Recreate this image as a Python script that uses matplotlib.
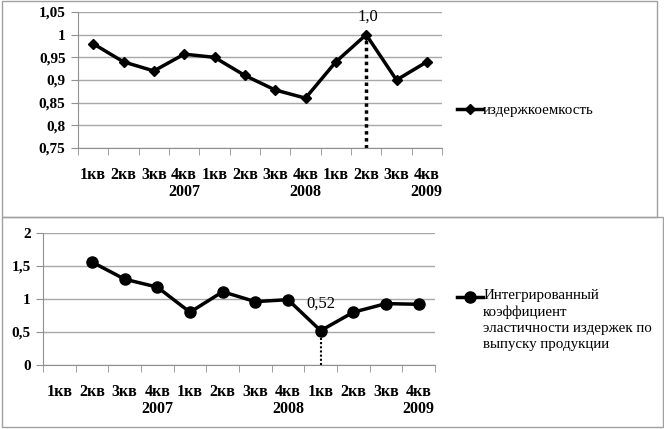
import matplotlib
matplotlib.use("Agg")
import matplotlib.pyplot as plt
from matplotlib.patches import Rectangle
import numpy as np

plt.rcParams['font.family'] = ['Liberation Serif', 'DejaVu Serif']

quarters = ["1кв", "2кв", "3кв", "4кв", "1кв", "2кв", "3кв", "4кв", "1кв", "2кв", "3кв", "4кв"]
years = ["", "", "", "2007", "", "", "", "2008", "", "", "", "2009"]
cost_intensity = [0.98, 0.94, 0.92, 0.957, 0.95, 0.91, 0.878, 0.86, 0.94, 1.0, 0.90, 0.94]
elasticity = [np.nan, 1.56, 1.30, 1.18, 0.80, 1.11, 0.96, 0.99, 0.52, 0.80, 0.93, 0.92]
label_top = "издержкоемкость"
label_bottom = "Интегрированный\nкоэффициент\nэластичности издержек по\nвыпуску продукции"
top_yticks = [0.75, 0.8, 0.85, 0.9, 0.95, 1.0, 1.05]
top_yticklabels = ["0,75", "0,8", "0,85", "0,9", "0,95", "1", "1,05"]
bot_yticks = [0, 0.5, 1, 1.5, 2]
bot_yticklabels = ["0", "0,5", "1", "1,5", "2"]

W, H = 664, 429
fig = plt.figure(figsize=(W / 100, H / 100), dpi=100)

def px(x0, y0, x1, y1):
    return [x0 / W, 1 - y1 / H, (x1 - x0) / W, (y1 - y0) / H]

# panel frames
fig.patches.append(Rectangle((2 / W, 1 - 217 / H), 655 / W, 216 / H, transform=fig.transFigure,
                             fill=False, edgecolor="#a0a0a0", lw=1.0))
fig.patches.append(Rectangle((2 / W, 1 - 427 / H), 661 / W, 210 / H, transform=fig.transFigure,
                             fill=False, edgecolor="#a0a0a0", lw=1.0))

labels = [q + ("\n" + y if y else "") for q, y in zip(quarters, years)]
x = np.arange(len(quarters))

def style(ax, yticks, yticklabels):
    ax.set_xlim(-0.5, len(quarters) - 0.5)
    ax.set_ylim(yticks[0], yticks[-1])
    ax.set_yticks(yticks)
    ax.set_yticklabels(yticklabels, fontsize=11, fontweight="bold")
    ax.set_xticks(x)
    ax.set_xticklabels(labels, fontsize=11.5, fontweight="bold", linespacing=1.05)
    ax.set_xticks(np.arange(-0.5, len(quarters)), minor=True)
    ax.tick_params(axis="x", which="major", length=0, pad=14)
    ax.tick_params(axis="x", which="minor", length=5, color="#909090")
    ax.tick_params(axis="y", length=5, color="#909090", pad=4)
    for s in ["top", "right"]:
        ax.spines[s].set_visible(False)
    for s in ["left", "bottom"]:
        ax.spines[s].set_color("#909090")
    ax.grid(axis="y", color="#a8a8a8", lw=1.0)
    ax.set_axisbelow(True)

def raise_handle(leg):
    # align the legend marker with the first line of its (possibly multi-line) label
    fig.canvas.draw()
    r = fig.canvas.get_renderer()
    for h, t in zip(leg.legend_handles, leg.get_texts()):
        n = t.get_text().count("\n") + 1
        if n == 1:
            continue
        tb = t.get_window_extent(r)
        hb = h.get_window_extent(r)
        line_h = tb.height / n
        target = tb.y1 - line_h / 2
        cur = (hb.y0 + hb.y1) / 2
        shift_pt = (target - cur) * 72 / fig.dpi
        h.set_ydata(np.asarray(h.get_ydata()) + shift_pt)

# top
ax1 = fig.add_axes(px(78, 12, 442, 148))
style(ax1, top_yticks, top_yticklabels)
ax1.plot(x, cost_intensity, color="black", lw=2.5, marker="D", ms=5, label=label_top, clip_on=False)
imax = int(np.argmax(cost_intensity))
ax1.plot([x[imax], x[imax]], [top_yticks[0], cost_intensity[imax]], color="black", lw=2.5, ls=(0, (1, 1)))
ax1.annotate("1,0", (x[imax], cost_intensity[imax]), xytext=(1, 7), textcoords="offset points",
             ha="center", va="bottom", fontsize=12)
leg1 = ax1.legend(loc="center left", bbox_to_anchor=(457 / W, 1 - 110 / H), bbox_transform=fig.transFigure,
                  frameon=False, handlelength=1.7, handletextpad=0.05, borderaxespad=0, borderpad=0,
                  prop={"size": 10.8})

# bottom
ax2 = fig.add_axes(px(43, 233, 435, 365))
style(ax2, bot_yticks, bot_yticklabels)
ax2.plot(x, elasticity, color="black", lw=2.5, marker="o", ms=8, label=label_bottom, clip_on=False)
imin = int(np.nanargmin(elasticity))
ax2.plot([x[imin], x[imin]], [0, elasticity[imin]], color="black", lw=1.5, ls=(0, (1, 1)))
ax2.annotate("0,52", (x[imin], elasticity[imin]), xytext=(0, 14), textcoords="offset points",
             ha="center", va="bottom", fontsize=12)
leg2 = ax2.legend(loc="upper left", bbox_to_anchor=(457 / W, 1 - 289 / H), bbox_transform=fig.transFigure,
                  frameon=False, handlelength=1.7, handletextpad=0.05, borderaxespad=0, borderpad=0,
                  prop={"size": 10.8})
for t in leg2.get_texts():
    t.set_linespacing(1.3)

raise_handle(leg2)

fig.savefig("out.png", dpi=100)
